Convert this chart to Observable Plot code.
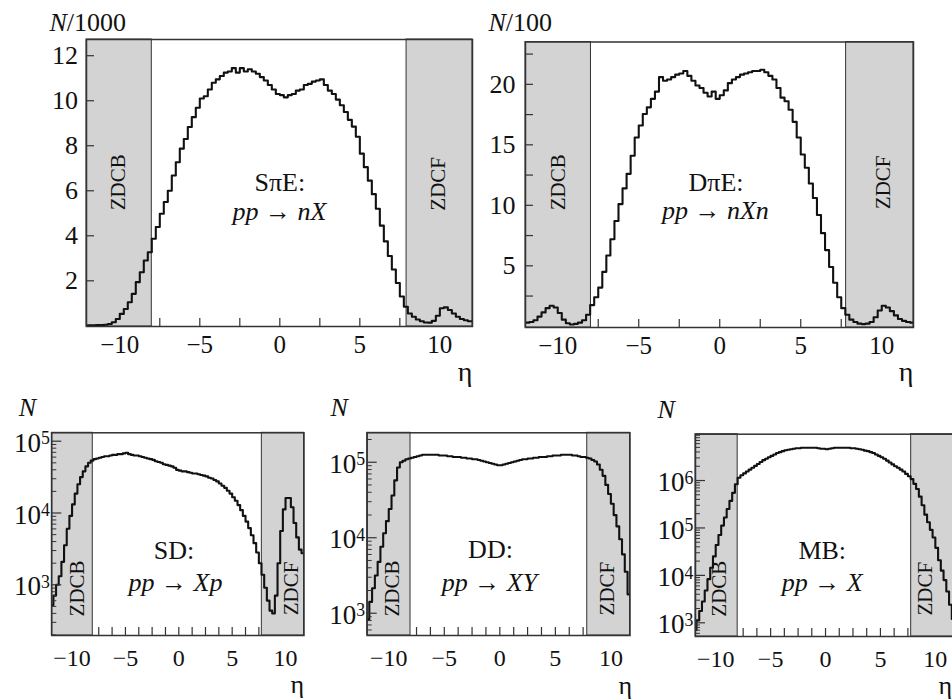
<!DOCTYPE html>
<html>
<head>
<meta charset="utf-8">
<script src="https://cdn.jsdelivr.net/npm/d3@7"></script>
<script src="https://cdn.jsdelivr.net/npm/@observablehq/plot@0.6"></script>
<style>
html, body { margin: 0; padding: 0; background: #fff; }
#root { position: relative; width: 952px; height: 699px; overflow: hidden; background: #fff; }
#root svg { position: absolute; }
#root svg, #root svg text, #root svg tspan, #root svg g {
  font-family: "Liberation Serif", "Tinos", "DejaVu Serif", "Times New Roman", serif !important;
}
</style>
</head>
<body>
<div id="root"></div>
<script>
// ---------- DATA ----------
// histogram binning (eta)
const binStart = -12, binWidth = 0.25;

// SπE: pp -> nX, counts in units of 1000
const spiE = [0.02,0.02,0.03,0.03,0.05,0.08,0.16,0.30,0.53,0.75,
  1.05,1.42,1.94,2.38,2.90,3.27,3.87,4.39,4.98,5.50,
  6.00,6.68,7.27,7.87,8.30,8.83,9.27,9.69,10.10,10.20,
  10.50,10.80,10.95,11.10,11.25,11.30,11.45,11.25,11.45,11.30,
  11.40,11.30,11.20,11.05,10.90,10.70,10.50,10.30,10.25,10.15,
  10.25,10.30,10.45,10.50,10.70,10.75,10.85,10.90,10.95,10.70,
  10.45,10.30,10.05,9.80,9.50,9.15,8.85,8.40,7.65,7.05,
  6.45,5.85,5.20,4.45,3.75,3.10,2.50,1.90,1.30,0.85,
  0.55,0.40,0.28,0.20,0.15,0.14,0.22,0.45,0.78,0.82,
  0.70,0.55,0.40,0.30,0.25,0.20];

// DπE: pp -> nXn, counts in units of 100
const dpiE = [0.30,0.35,0.50,0.80,1.15,1.50,1.70,1.55,1.10,0.55,
  0.25,0.15,0.20,0.30,0.50,0.95,1.75,2.40,3.20,4.50,
  5.85,7.20,8.70,10.10,11.40,12.60,14.10,15.60,16.60,17.55,
  18.10,18.80,19.40,20.60,20.30,20.40,20.60,20.80,20.90,21.10,
  20.70,20.30,19.90,19.70,19.30,19.00,19.40,18.80,19.10,19.50,
  20.10,20.40,20.60,20.80,20.90,21.00,21.10,21.10,21.20,21.00,
  20.70,20.40,19.70,18.90,18.60,17.90,16.90,15.60,14.20,13.10,
  11.80,10.60,9.20,7.70,6.30,4.90,3.60,2.40,1.50,0.95,
  0.55,0.35,0.22,0.18,0.22,0.35,0.75,1.30,1.70,1.55,
  1.25,0.90,0.60,0.45,0.35,0.30];

// SD: pp -> Xp, log10(N)
const sdLog10N = [2.72,2.85,3.00,3.12,3.32,3.55,3.78,3.96,4.12,4.27,
  4.40,4.50,4.58,4.65,4.70,4.73,4.75,4.76,4.77,4.78,
  4.79,4.79,4.80,4.81,4.81,4.82,4.82,4.83,4.84,4.82,
  4.81,4.80,4.80,4.79,4.78,4.77,4.76,4.75,4.74,4.72,
  4.71,4.70,4.68,4.67,4.66,4.65,4.63,4.60,4.59,4.58,
  4.58,4.57,4.56,4.55,4.55,4.54,4.53,4.52,4.51,4.49,
  4.48,4.46,4.44,4.41,4.38,4.35,4.31,4.27,4.22,4.17,
  4.11,4.04,3.96,3.88,3.79,3.69,3.58,3.45,3.30,3.14,
  2.96,2.78,2.64,2.60,2.85,3.30,3.75,4.05,4.21,4.21,
  4.08,3.86,3.66,3.49,3.44,3.44];

// DD: pp -> XY, log10(N)
const ddLog10N = [2.92,3.15,3.33,3.50,3.68,3.88,4.06,4.22,4.38,4.56,
  4.76,4.93,5.00,5.02,5.04,5.05,5.06,5.07,5.08,5.09,
  5.10,5.10,5.10,5.10,5.10,5.10,5.09,5.09,5.09,5.08,
  5.08,5.07,5.07,5.07,5.06,5.06,5.05,5.05,5.04,5.04,
  5.03,5.02,5.01,5.00,4.99,4.98,4.97,4.96,4.96,4.97,
  4.98,4.99,5.00,5.01,5.02,5.03,5.04,5.04,5.05,5.05,
  5.06,5.06,5.07,5.07,5.07,5.08,5.08,5.09,5.09,5.09,
  5.10,5.10,5.10,5.10,5.09,5.09,5.08,5.07,5.07,5.06,
  5.05,5.03,5.01,4.97,4.90,4.82,4.70,4.58,4.45,4.30,
  4.15,3.98,3.78,3.55,3.25,2.95];

// MB: pp -> X, log10(N)
const mbLog10N = [2.85,3.05,3.25,3.45,3.68,3.92,4.16,4.40,4.64,4.85,
  5.05,5.22,5.40,5.57,5.74,5.92,6.06,6.11,6.15,6.19,
  6.23,6.27,6.31,6.35,6.39,6.43,6.46,6.49,6.52,6.55,
  6.58,6.60,6.62,6.64,6.65,6.66,6.67,6.68,6.68,6.69,
  6.69,6.69,6.69,6.69,6.69,6.68,6.67,6.67,6.66,6.67,
  6.68,6.69,6.69,6.69,6.69,6.69,6.69,6.68,6.68,6.67,
  6.66,6.65,6.63,6.62,6.60,6.58,6.55,6.52,6.49,6.46,
  6.42,6.38,6.34,6.30,6.27,6.23,6.19,6.14,6.09,6.03,
  5.93,5.82,5.66,5.48,5.28,5.12,4.96,4.80,4.58,4.32,
  4.10,3.90,3.66,3.38,3.08,2.88];

// detector zone inner edges (eta): [ZDCB edge, ZDCF edge]
const spiEZones = [-8.0, 7.92];
const dpiEZones = [-7.95, 7.8];
const sdZones = [-8.06, 7.78];
const ddZones = [-8.04, 7.87];
const mbZones = [-8.0, 7.8];

// tick values and labels
const xLabelValues = [-10, -5, 0, 5, 10];
const topXTicks = [-7.5, -5, -2.5, 0, 2.5, 5, 7.5];
const bottomXTicks = [-7.5, -6.25, -5, -3.75, -2.5, -1.25, 0, 1.25, 2.5, 3.75, 5, 6.25, 7.5];
const spiEYTicks = [2, 4, 6, 8, 10, 12];
const dpiEYTicks = [2.5, 5, 7.5, 10, 12.5, 15, 17.5, 20, 22.5];
const dpiEYLabels = [5, 10, 15, 20];
const sdDecades = [1e3, 1e4, 1e5];
const ddDecades = [1e3, 1e4, 1e5];
const mbDecades = [1e3, 1e4, 1e5, 1e6];

// texts
const processNames = ["SπE:", "DπE:", "SD:", "DD:", "MB:"];
const reactions = ["*pp* → *nX*", "*pp* → *nXn*", "*pp* → *Xp*", "*pp* → *XY*", "*pp* → *X*"];
const yUnits = ["*N*/1000", "*N*/100", "*N*", "*N*", "*N*"];
const zoneNames = ["ZDCB", "ZDCF"];
const xName = "η";

// ---------- LAYOUT ----------
const serif = "Liberation Serif, Tinos, DejaVu Serif, serif";
const NS = "http://www.w3.org/2000/svg";

const panels = [
  {values: spiE, log: false, zones: spiEZones, left: 0, top: 0, width: 480, height: 390,
   m: [39, 8, 64, 86], xDomain: [-12.08, 12.04], yDomain: [-0.03, 12.72],
   xTicks: topXTicks, yTicks: spiEYTicks, yLabels: spiEYTicks, xFont: 25, xPad: 9, yFont: 26, yPad: 8.5,
   unit: [-37, -9], eta: [0, 54], etaFont: 28, name: [0, 5.98], reac: [-0.03, 4.72], zdcb: [-10.1, 6.38], zdcf: [9.9, 6.31]},
  {values: dpiE, log: false, zones: dpiEZones, left: 480, top: 0, width: 472, height: 390,
   m: [41.5, 39, 63, 45], xDomain: [-11.99, 11.96], yDomain: [-0.1, 23.5],
   xTicks: topXTicks, yTicks: dpiEYTicks, yLabels: dpiEYLabels, xFont: 25, xPad: 8.5, yFont: 26, yPad: 10,
   unit: [-37, -11.5], eta: [0, 53], etaFont: 28, name: [-0.23, 11.17], reac: [-0.27, 8.83], zdcb: [-9.94, 11.9], zdcf: [10.1, 11.9]},
  {values: sdLog10N, log: true, zones: sdZones, decades: sdDecades, left: 0, top: 390, width: 315, height: 309,
   m: [42.3, 11.5, 64, 51.3], xDomain: [-11.9, 11.73], yDomain: [10 ** 2.294, 10 ** 5.117],
   xTicks: bottomXTicks, xFont: 24, xPad: 13, yFont: 27, yPad: 2,
   unit: [-33, -17.3], eta: [0, 57], etaFont: 26, name: [-0.45, 2323], reac: [-0.31, 807], zdcb: [-9.47, 10 ** 2.95], zdcf: [10.55, 10 ** 2.95]},
  {values: ddLog10N, log: true, zones: ddZones, decades: ddDecades, left: 315, top: 390, width: 320, height: 309,
   m: [42.3, 5.5, 64, 51.7], xDomain: [-11.94, 11.72], yDomain: [10 ** 2.705, 10 ** 5.39],
   xTicks: bottomXTicks, xFont: 24, xPad: 13, yFont: 27, yPad: 2,
   unit: [-36.7, -17.3], eta: [2, 58], etaFont: 26, name: [-0.84, 5310], reac: [-0.93, 1972], zdcb: [-9.7, 10 ** 3.327], zdcf: [9.7, 10 ** 3.327]},
  {values: mbLog10N, log: true, zones: mbZones, decades: mbDecades, left: 635, top: 390, width: 330, height: 309,
   m: [43.7, 10.4, 63, 60], xDomain: [-11.84, 11.8], yDomain: [10 ** 2.711, 10 ** 6.977],
   xTicks: bottomXTicks, xFont: 24, xPad: 13, yFont: 27, yPad: 2,
   unit: [-38, -16.7], eta: [-3, 57], etaFont: 26, name: [-0.3, 22600], reac: [-0.3, 4780], zdcb: [-9.67, 10 ** 3.72], zdcf: [9.1, 10 ** 3.72]}
];

function histPoints(vals, isLog) {
  const pts = vals.map((v, i) => ({eta: binStart + i * binWidth, n: isLog ? 10 ** v : v}));
  pts.push({eta: binStart + vals.length * binWidth, n: pts[pts.length - 1].n});
  return pts;
}

function logMinor(domain) {
  const out = [];
  for (let e = 0; e < 9; e++) for (let m = 2; m <= 9; m++) {
    const v = m * 10 ** e;
    if (v >= domain[0] && v <= domain[1]) out.push(v);
  }
  return out;
}

function rich(svg) {
  for (const t of svg.querySelectorAll("text")) {
    const s = t.textContent;
    let mm;
    if (s.includes("*")) {
      const parts = s.split("*");
      t.textContent = "";
      parts.forEach((p, i) => {
        if (!p) return;
        const ts = document.createElementNS(NS, "tspan");
        if (i % 2 === 1) ts.setAttribute("font-style", "italic");
        ts.textContent = p;
        t.appendChild(ts);
      });
    } else if ((mm = s.match(/^10\^(\d+)$/))) {
      t.textContent = "10";
      const ts = document.createElementNS(NS, "tspan");
      ts.setAttribute("dy", "-0.42em");
      ts.setAttribute("font-size", "0.66em");
      ts.textContent = mm[1];
      t.appendChild(ts);
    }
  }
}

const root = document.getElementById("root");

panels.forEach((p, idx) => {
  const zoneData = [{a: p.xDomain[0], b: p.zones[0]}, {a: p.zones[1], b: p.xDomain[1]}];
  const marks = [
    Plot.rect(zoneData, {x1: "a", x2: "b", fill: "#d3d3d3", stroke: "#333", strokeWidth: 1}),
    Plot.line(histPoints(p.values, p.log), {x: "eta", y: "n", curve: "step-after", stroke: "#111", strokeWidth: 2.1, clip: true}),
    Plot.frame({stroke: "#333", strokeWidth: 1.5}),
    Plot.axisX({ticks: p.xTicks, tickSize: 8, dy: -8, fill: "none", stroke: "#333", strokeWidth: 1.2, label: null}),
    Plot.axisX({ticks: xLabelValues, tickSize: 0, tickPadding: p.xPad, fontSize: p.xFont, fontFamily: serif, fill: "#111", label: null})
  ];
  if (!p.log) {
    marks.push(
      Plot.axisY({ticks: p.yTicks, tickSize: 8, dx: 8, fill: "none", stroke: "#333", strokeWidth: 1.2, label: null}),
      Plot.axisY({ticks: p.yLabels, tickSize: 0, tickPadding: p.yPad, fontSize: p.yFont, fontFamily: serif, fill: "#111", label: null})
    );
  } else {
    marks.push(
      Plot.axisY({ticks: p.decades, tickSize: 10, dx: 10, fill: "none", stroke: "#333", strokeWidth: 1.2, label: null}),
      Plot.axisY({ticks: logMinor(p.yDomain), tickSize: 5, dx: 5, fill: "none", stroke: "#333", strokeWidth: 1, label: null}),
      Plot.axisY({ticks: p.decades, tickSize: 0, tickPadding: p.yPad, dy: 2, fontSize: p.yFont, fontFamily: serif, fill: "#111", label: null,
        tickFormat: d => `10^${Math.round(Math.log10(d))}`})
    );
  }
  marks.push(
    Plot.text([yUnits[idx]], {text: d => d, frameAnchor: "top-left", dx: p.unit[0], dy: p.unit[1], textAnchor: "start", lineAnchor: "bottom", fontSize: 26, fontFamily: serif, fill: "#111"}),
    Plot.text([xName], {text: d => d, frameAnchor: "bottom-right", dx: p.eta[0], dy: p.eta[1], textAnchor: "end", lineAnchor: "bottom", fontSize: p.etaFont, fontFamily: serif, fill: "#111"}),
    Plot.text([{x: p.name[0], y: p.name[1], t: processNames[idx]}], {x: "x", y: "y", text: "t", textAnchor: "middle", lineAnchor: "bottom", fontSize: 26, fontFamily: serif, fill: "#111"}),
    Plot.text([{x: p.reac[0], y: p.reac[1], t: reactions[idx]}], {x: "x", y: "y", text: "t", textAnchor: "middle", lineAnchor: "bottom", fontSize: 26, fontFamily: serif, fill: "#111"}),
    Plot.text([{x: p.zdcb[0], y: p.zdcb[1], t: zoneNames[0]}, {x: p.zdcf[0], y: p.zdcf[1], t: zoneNames[1]}],
      {x: "x", y: "y", text: "t", rotate: -90, textAnchor: "middle", lineAnchor: "middle", fontSize: 21, fontFamily: serif, fill: "#111"})
  );
  const svg = Plot.plot({
    width: p.width, height: p.height,
    marginTop: p.m[0], marginRight: p.m[1], marginBottom: p.m[2], marginLeft: p.m[3],
    x: {domain: p.xDomain},
    y: p.log ? {type: "log", domain: p.yDomain} : {domain: p.yDomain},
    style: {fontSize: "24px", background: "transparent", color: "#111", overflow: "visible"},
    marks
  });
  rich(svg);
  svg.style.left = p.left + "px";
  svg.style.top = p.top + "px";
  svg.style.maxWidth = "none";
  root.appendChild(svg);
});
</script>
</body>
</html>
